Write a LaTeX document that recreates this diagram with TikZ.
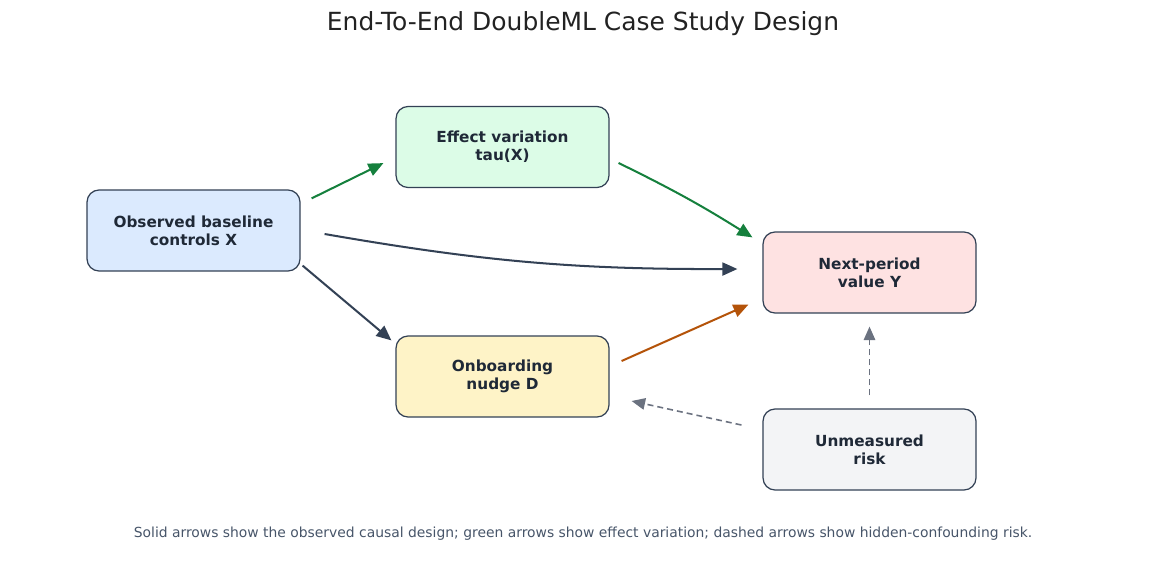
\documentclass[tikz,border=0pt]{standalone}
\usepackage{fontspec}
\setmainfont{DejaVu Sans}
\usetikzlibrary{arrows.meta,calc}
\definecolor{bordc}{HTML}{334155}
\definecolor{txtc}{HTML}{1F2937}
\definecolor{fblue}{HTML}{DBEAFE}
\definecolor{fgreen}{HTML}{DCFCE7}
\definecolor{fpink}{HTML}{FEE2E2}
\definecolor{fyellow}{HTML}{FEF3C7}
\definecolor{fgray}{HTML}{F3F4F6}
\definecolor{agreen}{HTML}{15803D}
\definecolor{adark}{HTML}{334155}
\definecolor{aorange}{HTML}{B45309}
\definecolor{agray}{HTML}{6B7280}
\definecolor{titlec}{HTML}{222222}
\definecolor{capc}{HTML}{475569}
\tikzset{
  box/.style={draw=bordc, line width=0.7pt, rounded corners=0.24cm,
    minimum width=4.26cm, minimum height=1.62cm, inner sep=0pt,
    align=center, text=txtc, font=\fontsize{8.7pt}{10.2pt}\selectfont\bfseries},
  arr/.style={line width=1.15pt, -{Triangle[length=0.3cm,width=0.26cm]}},
  darr/.style={line width=0.9pt, dash pattern=on 3.4pt off 2.3pt, draw=agray,
    -{Triangle[length=0.27cm,width=0.23cm]}}
}
\begin{document}
\begin{tikzpicture}[x=0.02cm,y=-0.02cm]
\useasboundingbox (0,0) rectangle (1166,585);
\node[font=\fontsize{14.2pt}{17pt}\selectfont, text=titlec] (title) at (583,23.5) {End-To-End DoubleML Case Study Design};
\node[box, fill=fblue] (x) at (193.5,230.5) {Observed baseline\\controls X};
\node[box, fill=fgreen] (tau) at (502.5,147) {Effect variation\\tau(X)};
\node[box, fill=fpink] (y) at (869.5,272.5) {Next-period\\value Y};
\node[box, fill=fyellow] (d) at (502.5,376.5) {Onboarding\\nudge D};
\node[box, fill=fgray] (u) at (869.5,449.5) {Unmeasured\\risk};
\draw[arr, draw=agreen] ($(x.north east)+(11,9)$) -- ($(tau.south west)+(-12,-25)$);
\draw[arr, draw=agreen] ($(tau.east)+(9,16)$) to[bend left=3] ($(y.north west)+(-10,6)$);
\draw[arr, draw=adark] ($(x.east)+(24,3.5)$) to[bend right=5] ($(y.west)+(-25,-3.5)$);
\draw[arr, draw=adark] ($(x.south east)+(2,-6)$) -- ($(d.north west)+(-4,5)$);
\draw[arr, draw=aorange] ($(d.east)+(12,-15.5)$) -- ($(y.south west)+(-14,-9)$);
\draw[darr] ($(u.west)+(-21,-24.5)$) -- ($(d.east)+(22,24.5)$);
\draw[darr] ($(u.north)+(0,-13)$) -- ($(y.south)+(0,13)$);
\node[font=\fontsize{7.9pt}{9.5pt}\selectfont, text=capc] (cap) at (583,534) {Solid arrows show the observed causal design; green arrows show effect variation; dashed arrows show hidden-confounding risk.};
\end{tikzpicture}
\end{document}
